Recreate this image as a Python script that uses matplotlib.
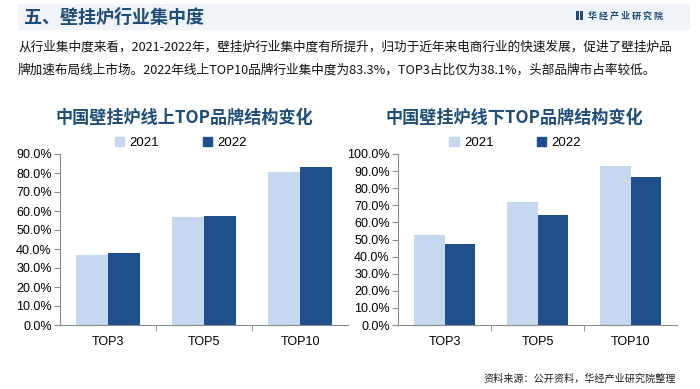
import matplotlib.pyplot as plt
import numpy as np
from matplotlib.patches import Patch, Rectangle

plt.rcParams["font.family"] = ["Liberation Sans", "Noto Sans CJK SC", "DejaVu Sans"]

CJK = ["Noto Sans CJK SC", "DejaVu Sans"]

# data (percent)
categories = ["TOP3", "TOP5", "TOP10"]
years = ["2021", "2022"]
online_2021 = [36.9, 56.7, 80.7]
online_2022 = [38.1, 57.3, 83.3]
offline_2021 = [52.7, 71.8, 93.2]
offline_2022 = [47.5, 64.2, 86.8]

header = "五、壁挂炉行业集中度"
paragraph = [
    "从行业集中度来看，2021-2022年，壁挂炉行业集中度有所提升，归功于近年来电商行业的快速发展，促进了壁挂炉品",
    "牌加速布局线上市场。2022年线上TOP10品牌行业集中度为83.3%，TOP3占比仅为38.1%，头部品牌市占率较低。",
]
title_online = "中国壁挂炉线上TOP品牌结构变化"
title_offline = "中国壁挂炉线下TOP品牌结构变化"
source = "资料来源：公开资料，华经产业研究院整理"
logo = "华 经 产 业 研 究 院"

light = "#c6d8ef"
dark = "#1f4f8c"
title_blue = "#1f4e79"
axis_gray = "#8c8c8c"

W, H = 700, 389
fig = plt.figure(figsize=(7, 3.89), dpi=100)


def fx(px):
    return px / W


def fy(py):
    return 1 - py / H


# header band
fig.patches.append(Rectangle((fx(18), fy(30)), fx(672), 26 / H, transform=fig.transFigure,
                             facecolor="#f0f3f8", edgecolor="none", zorder=0))
fig.text(fx(24), fy(17), header, family=CJK, fontsize=13, fontweight="bold",
         color=title_blue, va="center", ha="left")

# logo
fig.patches.append(Rectangle((fx(576), fy(20)), fx(2.5), 9 / H, transform=fig.transFigure,
                             facecolor=title_blue, edgecolor="none"))
fig.patches.append(Rectangle((fx(580), fy(20)), fx(2.5), 9 / H, transform=fig.transFigure,
                             facecolor=title_blue, edgecolor="none"))
fig.text(fx(588), fy(16), logo, family=CJK, fontsize=6.5, fontweight="bold",
         color=title_blue, va="center", ha="left")

# paragraph
for i, line in enumerate(paragraph):
    fig.text(fx(18), fy(47 + 23 * i), line, family=CJK, fontsize=9.1,
             color="#111111", va="center", ha="left")


def draw_panel(ax, v21, v22, ymax, title, title_x):
    x = np.arange(len(categories))
    w = 0.33
    ax.bar(x - w / 2, v21, w, color=light, label=years[0])
    ax.bar(x + w / 2, v22, w, color=dark, label=years[1])
    ax.set_xlim(-0.5, len(categories) - 0.5)
    ax.set_ylim(0, ymax)
    ax.set_yticks(np.arange(0, ymax + 1, 10))
    ax.set_yticklabels([f"{t:.1f}%" for t in np.arange(0, ymax + 1, 10)])
    ax.set_xticks(x)
    ax.set_xticklabels(categories)
    ax.set_xticks(np.arange(0.5, len(categories) - 0.5), minor=True)
    ax.tick_params(axis="x", which="major", length=0, pad=8, labelsize=9, colors="#000000")
    ax.tick_params(axis="x", which="minor", length=4, direction="out", color=axis_gray)
    ax.tick_params(axis="y", length=4, direction="out", color=axis_gray, labelsize=9, pad=2)
    for s in ["top", "right"]:
        ax.spines[s].set_visible(False)
    for s in ["left", "bottom"]:
        ax.spines[s].set_color(axis_gray)
        ax.spines[s].set_linewidth(0.8)
    handles = [Patch(color=light, label=years[0]), Patch(color=dark, label=years[1])]
    ax.legend(handles=handles, loc="lower center", bbox_to_anchor=(0.42, 0.99), ncol=2,
              frameon=False, fontsize=9.5, handlelength=0.7, handleheight=0.7,
              handletextpad=0.4, columnspacing=3.3, borderpad=0)
    fig.text(title_x, fy(118), title, family=CJK, fontsize=12.3, fontweight="bold",
             color=title_blue, va="center", ha="center")


bottom = fy(325)
height = (325 - 154) / H
ax1 = fig.add_axes([fx(60), bottom, fx(288), height])
ax2 = fig.add_axes([fx(398), bottom, fx(279), height])

draw_panel(ax1, online_2021, online_2022, 90, title_online, fx(184))
draw_panel(ax2, offline_2021, offline_2022, 100, title_offline, fx(514))

fig.text(fx(676), fy(379), source, family=CJK, fontsize=7.3, color="#222222",
         va="center", ha="right")

fig.savefig("out.png", dpi=100)
